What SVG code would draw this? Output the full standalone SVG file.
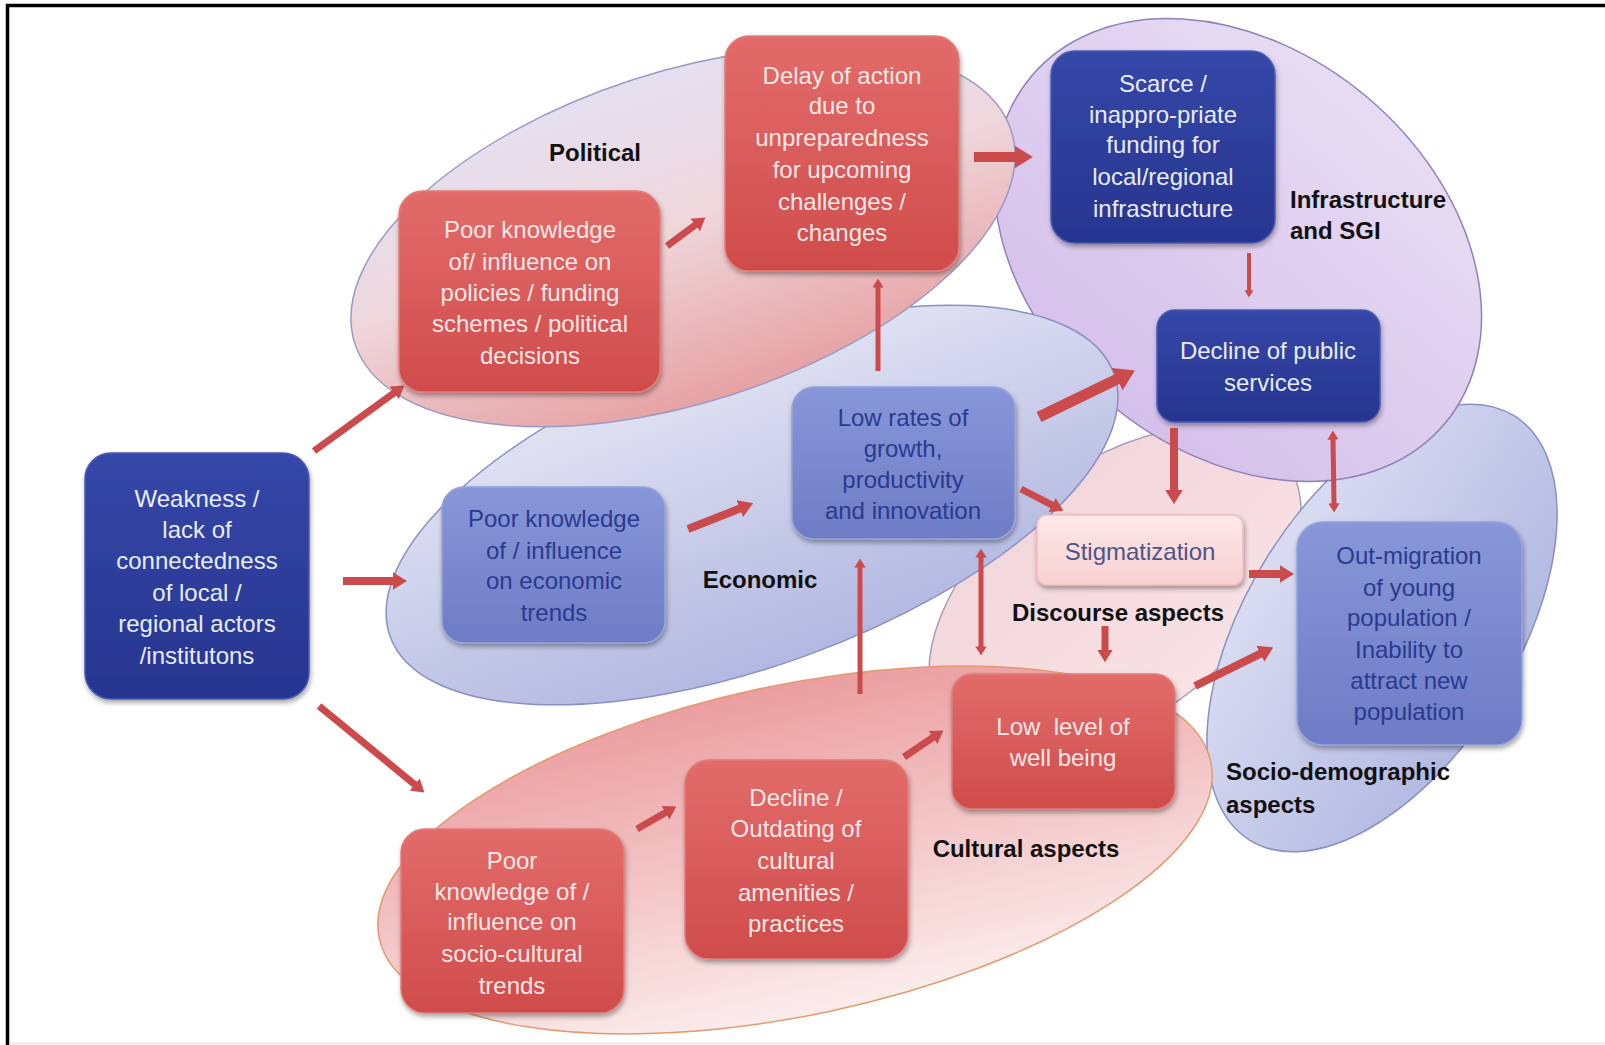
<svg xmlns="http://www.w3.org/2000/svg" width="1605" height="1045" viewBox="0 0 1605 1045">
<style>
.nt{font-family:"Liberation Sans",Arial,sans-serif;font-size:24px;text-anchor:middle}
.tr{fill:#fbe7e7}
.td{fill:#e8ecfa}
.tm{fill:#2b3a8f}
.ts{fill:#4d5486}
.lbl{font-family:"Liberation Sans",Arial,sans-serif;font-size:24px;font-weight:bold;fill:#111}
.red{fill:url(#gRed);stroke:#e27c7a;stroke-width:1.5}
.dark{fill:url(#gDark);stroke:#4a5ab5;stroke-width:1.5}
.med{fill:url(#gMed);stroke:#95a2de;stroke-width:1.5}
.arr{stroke:#cb4a4c;fill:none;stroke-linecap:butt}
.ell{stroke-width:1.5}
</style>
<defs>
<linearGradient id="gRed" x1="0" y1="0" x2="0" y2="1"><stop offset="0" stop-color="#e26c6a"/><stop offset="1" stop-color="#cf4c4b"/></linearGradient>
<linearGradient id="gDark" x1="0" y1="0" x2="0" y2="1"><stop offset="0" stop-color="#3547a8"/><stop offset="1" stop-color="#27358f"/></linearGradient>
<linearGradient id="gMed" x1="0" y1="0" x2="0" y2="1"><stop offset="0" stop-color="#8897d9"/><stop offset="1" stop-color="#6e7cc5"/></linearGradient>
<linearGradient id="gStig" x1="0" y1="0" x2="0" y2="1"><stop offset="0" stop-color="#fde8e8"/><stop offset="1" stop-color="#f8d0d2"/></linearGradient>
<linearGradient id="gPol" x1="0" y1="0" x2="0" y2="1"><stop offset="0" stop-color="#e5e0f1"/><stop offset="0.45" stop-color="#efd7dc"/><stop offset="1" stop-color="#e6a2a4"/></linearGradient>
<linearGradient id="gInf" x1="0" y1="0" x2="0" y2="1"><stop offset="0" stop-color="#e7dcf3"/><stop offset="1" stop-color="#d5c0ea"/></linearGradient>
<linearGradient id="gEco" x1="0" y1="0" x2="0" y2="1"><stop offset="0" stop-color="#e2e4f3"/><stop offset="1" stop-color="#b2b8e1"/></linearGradient>
<linearGradient id="gCul" x1="0" y1="0" x2="0" y2="1"><stop offset="0" stop-color="#eb9ea0"/><stop offset="1" stop-color="#fbecec"/></linearGradient>
<linearGradient id="gSoc" x1="0" y1="0" x2="0" y2="1"><stop offset="0" stop-color="#d9dcf1"/><stop offset="1" stop-color="#b3b8e2"/></linearGradient>
<linearGradient id="gDis" x1="0" y1="0" x2="0" y2="1"><stop offset="0" stop-color="#f2d6db"/><stop offset="1" stop-color="#f8e2e4"/></linearGradient>
<filter id="sh" x="-10%" y="-10%" width="125%" height="130%"><feDropShadow dx="1" dy="3" stdDeviation="2.5" flood-color="#000" flood-opacity="0.35"/></filter>
<marker id="ah" viewBox="0 0 8 10" refX="0.5" refY="5" markerWidth="1.8" markerHeight="2.3" orient="auto-start-reverse" markerUnits="strokeWidth"><path d="M0,0 L8,5 L0,10 z" fill="#cb4a4c"/></marker>
</defs>
<rect width="1605" height="1045" fill="#fff"/>
<path d="M7.5,1045 V5.5 H1605" fill="none" stroke="#000" stroke-width="3.5"/>
<line x1="9" y1="1043.5" x2="1605" y2="1043.5" stroke="#e2e2e2" stroke-width="1.5"/>

<g id="groups">
<ellipse id="g-discourse" class="ell" cx="1115" cy="592" rx="215" ry="125" transform="rotate(-38 1115 592)" fill="url(#gDis)" stroke="#a99ab8"/>
<ellipse id="g-socio" class="ell" cx="1382" cy="628" rx="250" ry="135" transform="rotate(-58 1382 628)" fill="url(#gSoc)" stroke="#8890c4"/>
<ellipse id="g-infra" class="ell" cx="1238" cy="250" rx="270" ry="200" transform="rotate(40 1238 250)" fill="url(#gInf)" stroke="#9080b8"/>
<ellipse id="g-cultural" class="ell" cx="795" cy="850" rx="425" ry="165" transform="rotate(-12 795 850)" fill="url(#gCul)" stroke="#e39a6e"/>
<ellipse id="g-economic" class="ell" cx="752" cy="505" rx="385" ry="160" transform="rotate(-20 752 505)" fill="url(#gEco)" stroke="#8a90c4"/>
<ellipse id="g-political" class="ell" cx="683" cy="237" rx="345" ry="165" transform="rotate(-18 683 237)" fill="url(#gPol)" stroke="#9a9ac4"/>
</g>

<g id="labels">
<text class="lbl" x="595" y="161" text-anchor="middle">Political</text>
<text class="lbl" x="1290" y="208">Infrastructure</text>
<text class="lbl" x="1290" y="239">and SGI</text>
<text class="lbl" x="760" y="588" text-anchor="middle">Economic</text>
<text class="lbl" x="1118" y="621" text-anchor="middle">Discourse aspects</text>
<text class="lbl" x="1026" y="857" text-anchor="middle">Cultural aspects</text>
<text class="lbl" x="1226" y="780">Socio-demographic</text>
<text class="lbl" x="1226" y="813">aspects</text>
</g>

<g id="connectors">
<line class="arr" x1="314" y1="451" x2="394.8" y2="392.4" stroke-width="7" marker-end="url(#ah)"/>
<line class="arr" x1="343" y1="581" x2="393.6" y2="581" stroke-width="8" marker-end="url(#ah)"/>
<line class="arr" x1="319" y1="706" x2="415.3" y2="785" stroke-width="7" marker-end="url(#ah)"/>
<line class="arr" x1="667" y1="246" x2="695.9" y2="224.5" stroke-width="7" marker-end="url(#ah)"/>
<line class="arr" x1="974" y1="157" x2="1016" y2="157" stroke-width="10" marker-end="url(#ah)"/>
<line class="arr" x1="1249" y1="253" x2="1249" y2="290.8" stroke-width="4" marker-end="url(#ah)"/>
<line class="arr" x1="878" y1="371" x2="878" y2="287" stroke-width="5" marker-end="url(#ah)"/>
<line class="arr" x1="1039" y1="417" x2="1118.2" y2="378.6" stroke-width="11" marker-end="url(#ah)"/>
<line class="arr" x1="688" y1="529" x2="740.6" y2="508.3" stroke-width="8" marker-end="url(#ah)"/>
<line class="arr" x1="1021" y1="489" x2="1052.8" y2="505.3" stroke-width="7" marker-end="url(#ah)"/>
<line class="arr" x1="1174" y1="428" x2="1174" y2="490.6" stroke-width="8" marker-end="url(#ah)"/>
<line class="arr" x1="1333" y1="439" x2="1334" y2="504" stroke-width="5" marker-start="url(#ah)" marker-end="url(#ah)"/>
<line class="arr" x1="1249" y1="574" x2="1280.6" y2="574" stroke-width="8" marker-end="url(#ah)"/>
<line class="arr" x1="981" y1="557" x2="981" y2="647" stroke-width="5" marker-start="url(#ah)" marker-end="url(#ah)"/>
<line class="arr" x1="860" y1="694" x2="860" y2="567" stroke-width="5" marker-end="url(#ah)"/>
<line class="arr" x1="1105" y1="626" x2="1105" y2="650.4" stroke-width="7" marker-end="url(#ah)"/>
<line class="arr" x1="1195" y1="686" x2="1261.1" y2="653.4" stroke-width="8" marker-end="url(#ah)"/>
<line class="arr" x1="904" y1="757" x2="933.6" y2="737" stroke-width="7" marker-end="url(#ah)"/>
<line class="arr" x1="637" y1="829" x2="666.1" y2="812.3" stroke-width="7" marker-end="url(#ah)"/>
</g>

<g id="n-weakness">
<rect class="dark" x="85" y="453" width="224" height="246" rx="26" filter="url(#sh)"/>
<text class="nt td" x="197"><tspan x="197" y="507">Weakness /</tspan><tspan x="197" y="538">lack of</tspan><tspan x="197" y="569">connectedness</tspan><tspan x="197" y="601">of local /</tspan><tspan x="197" y="632">regional actors</tspan><tspan x="197" y="664">/institutons</tspan></text>
</g>
<g id="n-poor-political">
<rect class="red" x="399" y="191" width="261" height="201" rx="24" filter="url(#sh)"/>
<text class="nt tr"><tspan x="530" y="238">Poor knowledge</tspan><tspan x="530" y="270">of/ influence on</tspan><tspan x="530" y="301">policies / funding</tspan><tspan x="530" y="332">schemes / political</tspan><tspan x="530" y="364">decisions</tspan></text>
</g>
<g id="n-delay">
<rect class="red" x="725" y="36" width="234" height="235" rx="24" filter="url(#sh)"/>
<text class="nt tr"><tspan x="842" y="84">Delay of action</tspan><tspan x="842" y="114">due to</tspan><tspan x="842" y="146">unpreparedness</tspan><tspan x="842" y="178">for upcoming</tspan><tspan x="842" y="210">challenges /</tspan><tspan x="842" y="241">changes</tspan></text>
</g>
<g id="n-scarce">
<rect class="dark" x="1051" y="51" width="224" height="192" rx="24" filter="url(#sh)"/>
<text class="nt td"><tspan x="1163" y="92">Scarce /</tspan><tspan x="1163" y="123">inappro-priate</tspan><tspan x="1163" y="153">funding for</tspan><tspan x="1163" y="185">local/regional</tspan><tspan x="1163" y="217">infrastructure</tspan></text>
</g>
<g id="n-decline-public">
<rect class="dark" x="1157" y="310" width="223" height="112" rx="18" filter="url(#sh)"/>
<text class="nt td"><tspan x="1268" y="359">Decline of public</tspan><tspan x="1268" y="391">services</tspan></text>
</g>
<g id="n-poor-economic">
<rect class="med" x="442" y="487" width="223" height="156" rx="22" filter="url(#sh)"/>
<text class="nt tm"><tspan x="554" y="527">Poor knowledge</tspan><tspan x="554" y="559">of / influence</tspan><tspan x="554" y="589">on economic</tspan><tspan x="554" y="621">trends</tspan></text>
</g>
<g id="n-low-rates">
<rect class="med" x="792" y="387" width="223" height="152" rx="22" filter="url(#sh)"/>
<text class="nt tm"><tspan x="903" y="426">Low rates of</tspan><tspan x="903" y="457">growth,</tspan><tspan x="903" y="488">productivity</tspan><tspan x="903" y="519">and innovation</tspan></text>
</g>
<g id="n-stigmatization">
<rect x="1037" y="515" width="206" height="70" rx="10" fill="url(#gStig)" stroke="#efbcbf" stroke-width="1.5" filter="url(#sh)"/>
<text class="nt ts" x="1140" y="560">Stigmatization</text>
</g>
<g id="n-outmigration">
<rect class="med" x="1297" y="522" width="225" height="223" rx="26" filter="url(#sh)"/>
<text class="nt tm"><tspan x="1409" y="564">Out-migration</tspan><tspan x="1409" y="596">of young</tspan><tspan x="1409" y="626">population /</tspan><tspan x="1409" y="658">Inability to</tspan><tspan x="1409" y="689">attract new</tspan><tspan x="1409" y="720">population</tspan></text>
</g>
<g id="n-low-level">
<rect class="red" x="952" y="674" width="223" height="135" rx="20" filter="url(#sh)"/>
<text class="nt tr"><tspan x="1063" y="735" xml:space="preserve">Low  level of</tspan><tspan x="1063" y="766">well being</tspan></text>
</g>
<g id="n-decline-cultural">
<rect class="red" x="685" y="760" width="223" height="199" rx="24" filter="url(#sh)"/>
<text class="nt tr"><tspan x="796" y="806">Decline /</tspan><tspan x="796" y="837">Outdating of</tspan><tspan x="796" y="869">cultural</tspan><tspan x="796" y="901">amenities /</tspan><tspan x="796" y="932">practices</tspan></text>
</g>
<g id="n-poor-sociocultural">
<rect class="red" x="401" y="829" width="223" height="184" rx="24" filter="url(#sh)"/>
<text class="nt tr"><tspan x="512" y="869">Poor</tspan><tspan x="512" y="900">knowledge of /</tspan><tspan x="512" y="930">influence on</tspan><tspan x="512" y="962">socio-cultural</tspan><tspan x="512" y="994">trends</tspan></text>
</g>
</svg>
